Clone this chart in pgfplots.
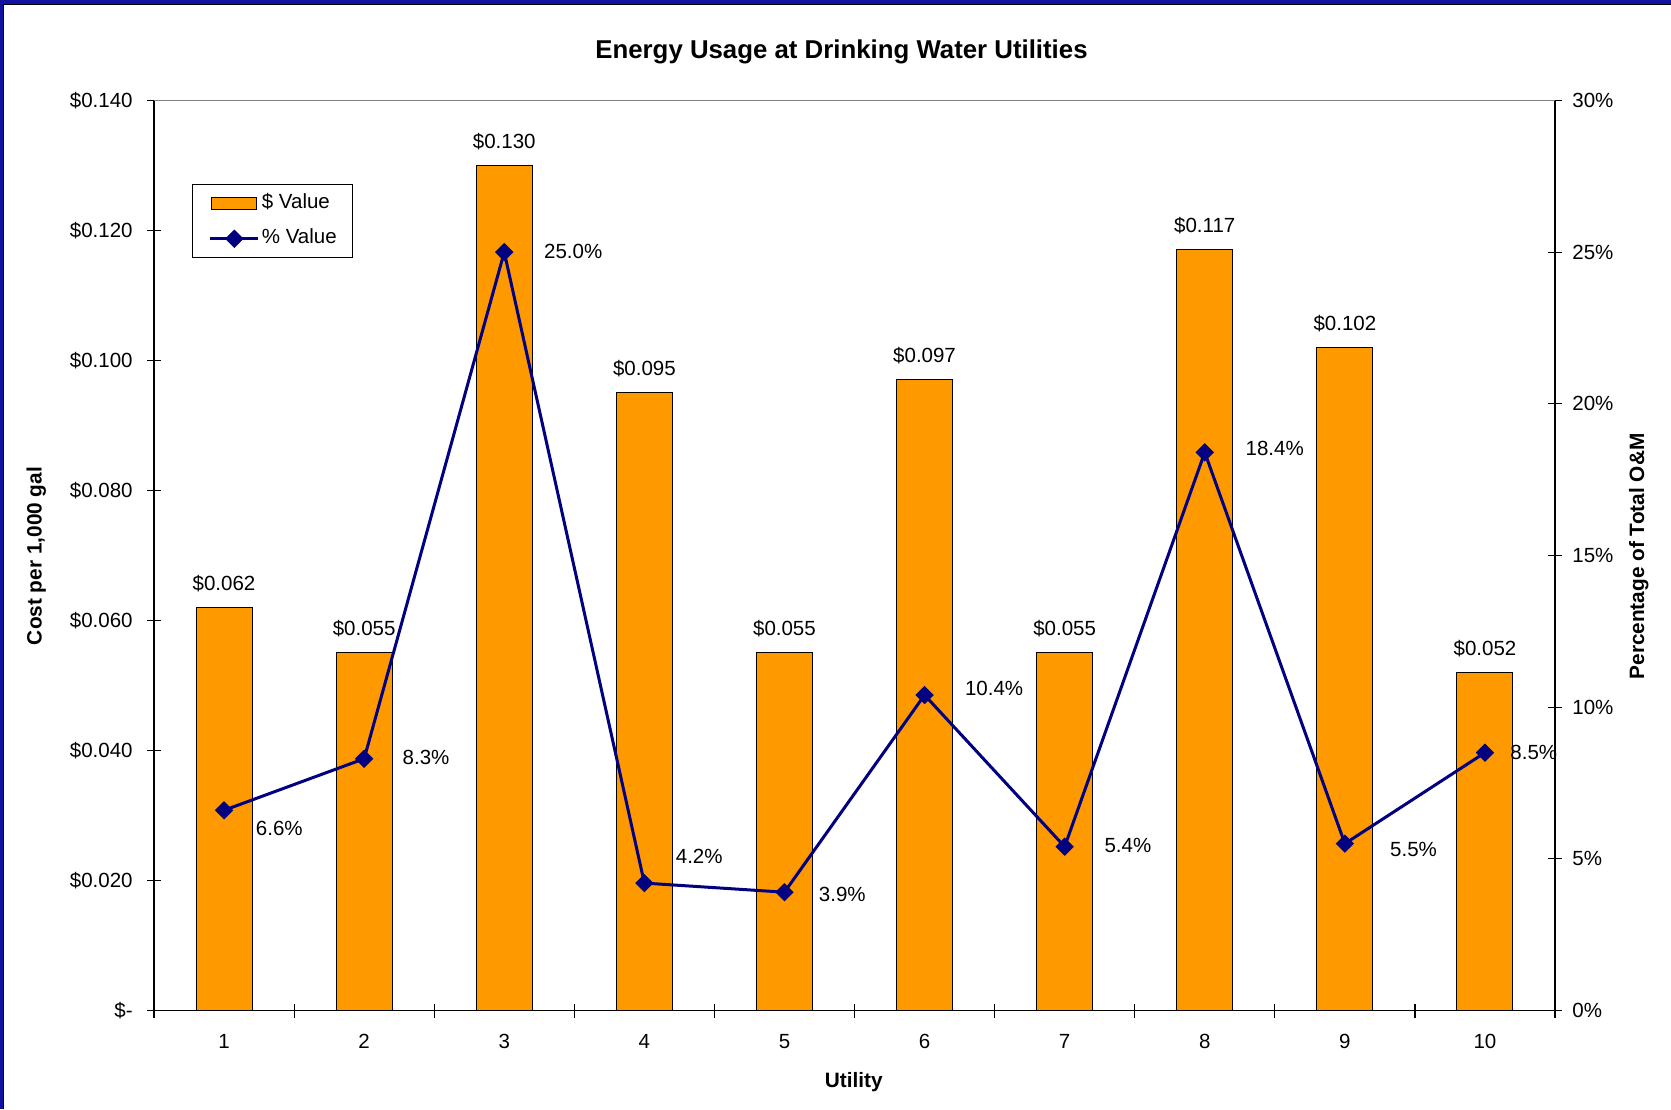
\documentclass[border=0pt]{standalone}
\usepackage{fontspec}
\setmainfont{Liberation Sans}
\usepackage{pgfplots}
\pgfplotsset{compat=1.18}
\usepackage{pgfplotstable}

\definecolor{barorange}{RGB}{255,153,0}
\definecolor{linenavy}{RGB}{0,0,128}
\definecolor{frameblue}{RGB}{18,18,160}
\definecolor{bordergray}{RGB}{128,128,128}

% cost per 1,000 gal for each utility
\pgfplotstableread{
u cost
1 0.062
2 0.055
3 0.130
4 0.095
5 0.055
6 0.097
7 0.055
8 0.117
9 0.102
10 0.052
}\costtable

% energy share of total O&M (percent), with label offsets in pt
\pgfplotstableread{
u pct dx dy
1 6.6 15.7 -9.2
2 8.3 19.0 0.5
3 25.0 19.7 0.5
4 4.2 15.5 13.3
5 3.9 17.0 -1.0
6 10.4 20.0 3.2
7 5.4 19.7 0.5
8 18.4 20.2 2.1
9 5.5 22.4 -2.7
10 8.5 12.5 0.0
}\pcttable

\newcommand\lblfont{\fontsize{10.25}{12.3}\selectfont}

\pgfplotsset{
  common/.style={
    scale only axis, width=700.5pt, height=455pt,
    at={(77pt,49.25pt)}, anchor=south west,
    xmin=0.5, xmax=10.5, ymin=0,
    tick align=center, major tick length=7pt,
    every tick/.style={black, line width=0.6pt},
    axis line style={black, line width=0.6pt},
    tick label style={font=\lblfont},
    /pgf/number format/assume math mode=true,
  },
  barlegend/.style={legend image code/.code={%
    \draw[fill=barorange, draw=black, line width=0.5pt] (0.5pt,-3.1pt) rectangle (23pt,3.1pt);}},
  linelegend/.style={legend image code/.code={%
    \draw[##1, mark repeat=2, mark phase=2] plot coordinates {(0pt,0pt) (12pt,0pt) (24pt,0pt)};}},
}

\begin{document}
\begin{tikzpicture}
\fill[white] (0,0) rectangle (835.5pt,554.5pt);

% cost bars (left axis)
\begin{axis}[common,
  axis y line*=left, axis x line*=bottom,
  ymax=0.14,
  ytick={0,0.02,0.04,0.06,0.08,0.1,0.12,0.14},
  yticklabels={\$-,\$0.020,\$0.040,\$0.060,\$0.080,\$0.100,\$0.120,\$0.140},
  yticklabel style={anchor=east, inner sep=0pt, xshift=-7pt},
  xtick={0.5,1.5,...,10.5}, xticklabels={},
  extra x ticks={1,2,3,4,5,6,7,8,9,10},
  extra x tick labels={1,2,3,4,5,6,7,8,9,10},
  extra x tick style={major tick length=0pt,
    xticklabel style={anchor=north, inner sep=0pt, yshift=-11.5pt}},
]
\addplot[ybar, bar width=28pt, fill=barorange, draw=black, line width=0.5pt,
  nodes near coords={\$\pgfmathprintnumber[fixed,fixed zerofill,precision=3]{\pgfplotspointmeta}},
  every node near coord/.append style={font=\lblfont, text=black, anchor=base, inner sep=0pt, yshift=8.5pt}]
  table[x=u,y=cost]{\costtable};
\end{axis}

% percentage line (right axis)
\begin{axis}[common,
  axis y line*=right, axis x line=none,
  ymax=30,
  ytick={0,5,10,15,20,25,30},
  yticklabels={0\%,5\%,10\%,15\%,20\%,25\%,30\%},
  yticklabel style={anchor=west, inner sep=0pt, xshift=5pt},
  legend style={at={(axis description cs:0.0274,0.9077)}, anchor=north west,
    draw=black, line width=0.5pt, font=\lblfont, fill=white,
    inner xsep=8pt, inner ysep=4.4pt, row sep=7.5pt,
    nodes={inner sep=0pt, text height=7.5pt, text depth=2.5pt},
    /tikz/every odd column/.append style={column sep=1pt}},
  legend cell align=left,
]
\addlegendimage{barlegend}
\addlegendentry{\$ Value}
\addplot[linenavy, line width=1.5pt,
  mark=square*, mark size=3pt,
  mark options={rotate=45, solid, line width=0.5pt, fill=linenavy, draw=linenavy},
  linelegend,
  visualization depends on={\thisrow{dx} \as \labeldx},
  visualization depends on={\thisrow{dy} \as \labeldy},
  nodes near coords={\pgfmathprintnumber[fixed,fixed zerofill,precision=1]{\pgfplotspointmeta}\%},
  every node near coord/.append style={font=\lblfont, text=black, anchor=west, inner sep=0pt,
    xshift=\labeldx pt, yshift=\labeldy pt}]
  table[x=u,y=pct]{\pcttable};
\addlegendentry{\% Value}
\draw[bordergray, line width=0.6pt] (rel axis cs:0,1) -- (rel axis cs:1,1);
\end{axis}

% titles
\node[font=\fontsize{12.9}{15.5}\selectfont\bfseries, anchor=base] at (420.75pt,525pt) {Energy Usage at Drinking Water Utilities};
\node[font=\fontsize{10.4}{12.5}\selectfont\bfseries, anchor=base, rotate=90] at (20.8pt,276.5pt) {Cost per 1,000 gal};
\node[font=\fontsize{10.4}{12.5}\selectfont\bfseries, anchor=base, rotate=90] at (822pt,276.25pt) {Percentage of Total O\&M};
\node[font=\fontsize{10.4}{12.5}\selectfont\bfseries, anchor=base] at (426.9pt,11pt) {Utility};

% frame along the top and left edges
\fill[frameblue] (0,552.5pt) rectangle (835.5pt,554.5pt);
\fill[frameblue] (0,0) rectangle (1.7pt,554.5pt);
\draw[black, line width=0.5pt] (1.95pt,0) -- (1.95pt,552.25pt) -- (835.5pt,552.25pt);

\pgfresetboundingbox
\useasboundingbox (0,0) rectangle (835.5pt,554.5pt);
\end{tikzpicture}
\end{document}
